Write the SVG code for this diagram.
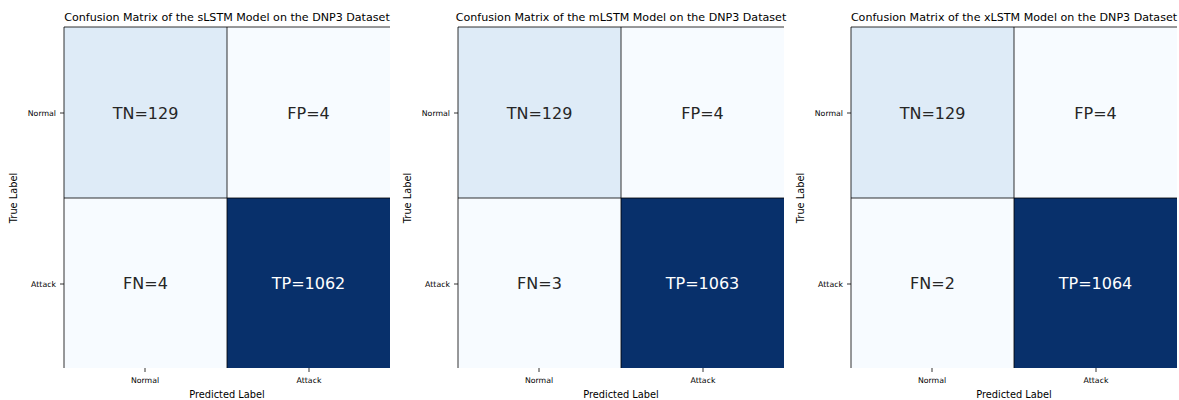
<svg xmlns="http://www.w3.org/2000/svg" width="1179" height="400" viewBox="0 0 1179 400">
<style>
text{font-family:"DejaVu Sans",sans-serif;}
.title{font-size:11.1px;fill:#000;text-anchor:middle;}
.cell{font-size:16px;text-anchor:middle;dominant-baseline:central;}
.dk{fill:#262626;}
.lt{fill:#ffffff;}
.tick{font-size:7.8px;fill:#000;}
.axl{font-size:9.8px;fill:#000;text-anchor:middle;}
.grid{stroke:#000;stroke-width:1;fill:none;}
.tk{stroke:#000;stroke-width:0.8;}
</style>
<defs>
<g id="axes">
<line class="tk" x1="60" y1="113" x2="64" y2="113"/>
<line class="tk" x1="60" y1="284" x2="64" y2="284"/>
<line class="tk" x1="145" y1="368" x2="145" y2="372"/>
<line class="tk" x1="309" y1="368" x2="309" y2="372"/>
<text class="tick" x="56" y="116" text-anchor="end">Normal</text>
<text class="tick" x="56" y="287" text-anchor="end">Attack</text>
<text class="tick" x="145" y="383" text-anchor="middle">Normal</text>
<text class="tick" x="309" y="383" text-anchor="middle">Attack</text>
<text class="axl" x="227" y="398">Predicted Label</text>
<text class="axl" transform="translate(16.5,198) rotate(-90)">True Label</text>
</g>
</defs>
<rect width="1179" height="400" fill="#ffffff"/>

<g id="panel-slstm">
<text class="title" x="227" y="21">Confusion Matrix of the sLSTM Model on the DNP3 Dataset</text>
<rect x="64" y="27" width="163" height="171" fill="#deebf7"/>
<rect x="227" y="27" width="163" height="171" fill="#f7fbff"/>
<rect x="64" y="198" width="163" height="170" fill="#f7fbff"/>
<rect x="227" y="198" width="163" height="170" fill="#08306b"/>
<path class="grid" d="M64,27 H390 M64,198 H390 M227,27 V368 M64,27 V368" stroke-opacity="0.8"/>
<text class="cell dk" x="145.5" y="113">TN=129</text>
<text class="cell dk" x="308.5" y="113">FP=4</text>
<text class="cell dk" x="145.5" y="283.5">FN=4</text>
<text class="cell lt" x="308.5" y="283.5">TP=1062</text>
<use href="#axes"/>
</g>

<g id="panel-mlstm">
<text class="title" x="621" y="21">Confusion Matrix of the mLSTM Model on the DNP3 Dataset</text>
<rect x="458" y="27" width="163" height="171" fill="#deebf7"/>
<rect x="621" y="27" width="163" height="171" fill="#f7fbff"/>
<rect x="458" y="198" width="163" height="170" fill="#f7fbff"/>
<rect x="621" y="198" width="163" height="170" fill="#08306b"/>
<path class="grid" d="M458,27 H784 M458,198 H784 M621,27 V368 M458,27 V368" stroke-opacity="0.8"/>
<text class="cell dk" x="539.5" y="113">TN=129</text>
<text class="cell dk" x="702.5" y="113">FP=4</text>
<text class="cell dk" x="539.5" y="283.5">FN=3</text>
<text class="cell lt" x="702.5" y="283.5">TP=1063</text>
<use href="#axes" transform="translate(394,0)"/>
</g>

<g id="panel-xlstm">
<text class="title" x="1014" y="21">Confusion Matrix of the xLSTM Model on the DNP3 Dataset</text>
<rect x="851" y="27" width="163" height="171" fill="#deebf7"/>
<rect x="1014" y="27" width="163" height="171" fill="#f7fbff"/>
<rect x="851" y="198" width="163" height="170" fill="#f7fbff"/>
<rect x="1014" y="198" width="163" height="170" fill="#08306b"/>
<path class="grid" d="M851,27 H1177 M851,198 H1177 M1014,27 V368 M851,27 V368" stroke-opacity="0.8"/>
<text class="cell dk" x="932.5" y="113">TN=129</text>
<text class="cell dk" x="1095.5" y="113">FP=4</text>
<text class="cell dk" x="932.5" y="283.5">FN=2</text>
<text class="cell lt" x="1095.5" y="283.5">TP=1064</text>
<use href="#axes" transform="translate(787,0)"/>
</g>
<g id="connectors"/>
</svg>
